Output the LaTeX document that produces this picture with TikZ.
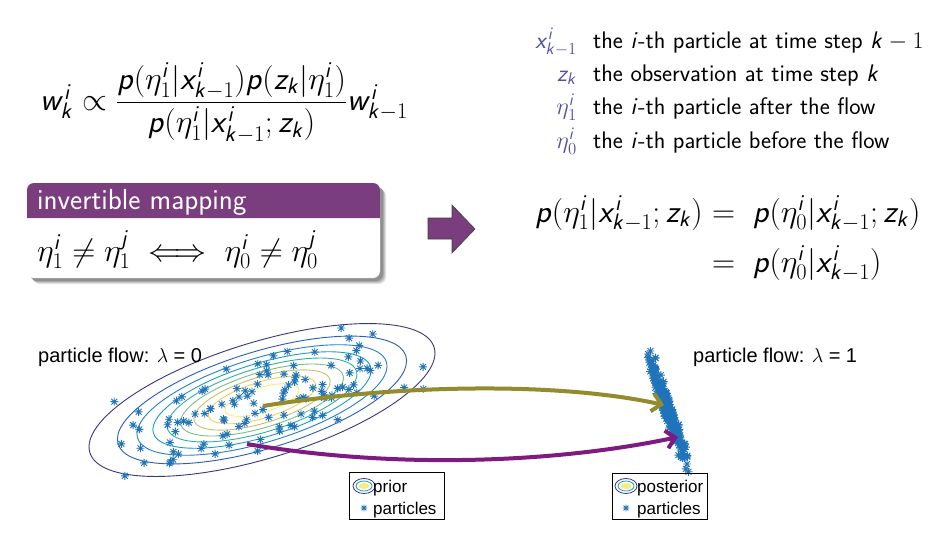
\RequirePackage{fix-cm}
\documentclass[tikz,border=0pt]{standalone}
\usepackage{fontspec}
\usepackage{amsmath}
\DeclareSymbolFont{sfitletters}{OT1}{cmss}{m}{sl}
\DeclareSymbolFont{sfupright}{OT1}{cmss}{m}{n}
\DeclareMathSymbol{w}{\mathalpha}{sfitletters}{`w}
\DeclareMathSymbol{k}{\mathalpha}{sfitletters}{`k}
\DeclareMathSymbol{i}{\mathalpha}{sfitletters}{`i}
\DeclareMathSymbol{j}{\mathalpha}{sfitletters}{`j}
\DeclareMathSymbol{p}{\mathalpha}{sfitletters}{`p}
\DeclareMathSymbol{x}{\mathalpha}{sfitletters}{`x}
\DeclareMathSymbol{z}{\mathalpha}{sfitletters}{`z}
\DeclareMathSymbol{0}{\mathalpha}{sfupright}{`0}
\DeclareMathSymbol{1}{\mathalpha}{sfupright}{`1}
\newfontfamily\arialf{Liberation Sans}
\usetikzlibrary{arrows.meta}
\definecolor{blockpurple}{HTML}{7A3E7E}
\definecolor{symblue}{HTML}{5050A0}
\definecolor{astc}{HTML}{1F73B8}
\definecolor{olivearrow}{HTML}{938B2C}
\definecolor{purplearrow}{HTML}{7E1A80}
\definecolor{cA}{HTML}{3A3580}
\definecolor{cB}{HTML}{2A5CB8}
\definecolor{cC}{HTML}{2480C8}
\definecolor{cD}{HTML}{1A9EC0}
\definecolor{cE}{HTML}{30B0A0}
\definecolor{cF}{HTML}{7EBE80}
\definecolor{cG}{HTML}{C8C068}
\definecolor{cH}{HTML}{EED060}
\definecolor{cI}{HTML}{F6EC80}
\tikzset{
  ast/.pic={\draw[astc,line width=0.9pt] (-4,0)--(4,0) (0,-4)--(0,4) (-2.9,-2.9)--(2.9,2.9) (-2.9,2.9)--(2.9,-2.9);},
  sast/.pic={\draw[astc,line width=0.8pt] (-3.3,0)--(3.3,0) (0,-3.3)--(0,3.3) (-2.4,-2.4)--(2.4,2.4) (-2.4,2.4)--(2.4,-2.4);},
  bigtext/.style={font=\sffamily\fontsize{29}{34}\selectfont},
  mathbig/.style={font=\sffamily\fontsize{32}{38}\selectfont},
  listtext/.style={font=\sffamily\fontsize{24}{28}\selectfont},
  plottext/.style={font=\arialf\fontsize{20}{24}\selectfont},
  legtext/.style={font=\arialf\fontsize{17}{20}\selectfont},
  flowarrow/.style={line width=4pt, -{Straight Barb[length=9pt,width=18pt,line width=4pt]}},
  contour/.style={line width=0.9pt}
}
\begin{document}
\begin{tikzpicture}[x=1pt,y=-1pt]
\useasboundingbox[fill=white] (0,0) rectangle (934,538);

% weight formula
\node[mathbig, anchor=west, inner sep=0pt] (wformula) at (40,103)
  {$w_k^i \propto \dfrac{p(\eta_1^i|x_{k-1}^i)p(z_k|\eta_1^i)}{p(\eta_1^i|x_{k-1}^i;z_k)}w_{k-1}^i$};

% block with shadow
\foreach \o/\op in {6/0.10,5/0.12,4/0.14,3/0.16}{
  \fill[black,opacity=\op,rounded corners=7] (27+\o,183+\o) rectangle (380+\o,278+\o);
}
\fill[white,rounded corners=7] (27,183) rectangle (380,278);
\fill[blockpurple] (27,218) {[rounded corners=7] -- (27,183) -- (380,183)} -- (380,218) -- cycle;
\node[bigtext, text=white, anchor=base west, inner sep=0pt] (hdr) at (37,209) {invertible mapping};
\node[mathbig, anchor=base west, inner sep=0pt] (inv) at (37,261)
  {$\eta_1^i \neq \eta_1^j \iff \eta_0^i\neq\eta_0^j$};

% big arrow
\filldraw[fill=blockpurple, draw=black!75, line width=0.6pt]
  (428,218) -- (452,218) -- (452,205) -- (475,229) -- (452,253) -- (452,239) -- (428,239) -- cycle;

% symbol list
\node[listtext, text=symblue, anchor=base east, inner sep=0pt] (s1) at (577,48) {$x_{k-1}^i$};
\node[listtext, text=symblue, anchor=base east, inner sep=0pt] (s2) at (577,81) {$z_k$};
\node[listtext, text=symblue, anchor=base east, inner sep=0pt] (s3) at (577,114) {$\eta_1^i$};
\node[listtext, text=symblue, anchor=base east, inner sep=0pt] (s4) at (577,148) {$\eta_0^i$};
\node[listtext, anchor=base west, inner sep=0pt] (t1) at (593,48) {the $i$-th particle at time step $k-1$};
\node[listtext, anchor=base west, inner sep=0pt] (t2) at (593,81) {the observation at time step $k$};
\node[listtext, anchor=base west, inner sep=0pt] (t3) at (593,114) {the $i$-th particle after the flow};
\node[listtext, anchor=base west, inner sep=0pt] (t4) at (593,148) {the $i$-th particle before the flow};

% right equation
\node[mathbig, anchor=base west, inner sep=0pt] (eq1) at (535,222) {$p(\eta_1^i|x_{k-1}^i;z_k)$};
\node[mathbig, anchor=base west, inner sep=0pt] (eq2) at (eq1.base east) {$\;=\; p(\eta_0^i|x_{k-1}^i;z_k)$};
\node[mathbig, anchor=base west, inner sep=0pt] (eq3) at ([yshift=-50pt]eq1.base east) {$\;=\; p(\eta_0^i|x_{k-1}^i)$};

% prior contours
\begin{scope}[shift={(262,400)}, rotate=17]
  \foreach \s/\c in {1/cA,0.836/cB,0.723/cC,0.631/cD,0.549/cE,0.471/cF,0.394/cG,0.311/cH,0.214/cI}{
    \draw[contour,\c] (0,0) ellipse ({180*\s} and {58*\s});
  }
\end{scope}

% prior particles
\pgfmathsetseed{11}
\foreach \i in {1,...,115}{
  \pgfmathsetmacro\u{90*(rand+rand)}
  \pgfmathsetmacro\v{28*(rand+rand)}
  \pgfmathsetmacro\px{262+\u*cos(17)+\v*sin(17)}
  \pgfmathsetmacro\py{400-\u*sin(17)+\v*cos(17)}
  \pic at (\px,\py) {ast};
}

% posterior particles
\foreach \i in {1,...,260}{
  \pgfmathsetmacro\t{0.5+0.2*(rand+rand+rand)}
  \pgfmathsetmacro\w{3*(rand+rand)}
  \pgfmathsetmacro\px{648+\t*39+\w*0.945}
  \pgfmathsetmacro\py{352+\t*113-\w*0.326}
  \pic at (\px,\py) {ast};
}
\pic at (648,354) {ast};
\pic at (685,458) {ast};
\pic at (687,464) {ast};
\pic at (652,366) {ast};

% flow arrows
\coordinate (olstart) at (263,406);
\coordinate (olend) at (664,405);
\coordinate (pustart) at (247,444);
\coordinate (puend) at (678,437);
\draw[flowarrow, olivearrow] (olstart) .. controls (400,384) and (560,382) .. (olend);
\draw[flowarrow, purplearrow] (pustart) .. controls (400,470) and (560,462) .. (puend);

% labels
\node[plottext, anchor=base west, inner sep=0pt] (lab0) at (38,362) {particle flow: $\lambda$ = 0};
\node[plottext, anchor=base west, inner sep=0pt] (lab1) at (693,362) {particle flow: $\lambda$ = 1};

% legends
\draw[line width=0.7pt] (349,472) rectangle (444,519);
\draw[cA, line width=0.8pt] (364,486) ellipse (11 and 7.5);
\draw[cD, line width=0.8pt] (364,486) ellipse (8 and 5);
\fill[cI] (364,486) ellipse (5.5 and 3);
\node[legtext, anchor=base west, inner sep=0pt] (lp1) at (373,492) {prior};
\pic at (364,508) {sast};
\node[legtext, anchor=base west, inner sep=0pt] (lp2) at (373,514) {particles};

\draw[line width=0.7pt] (612,473) rectangle (707,519);
\draw[cA, line width=0.8pt] (626,486) ellipse (11 and 7.5);
\draw[cD, line width=0.8pt] (626,486) ellipse (8 and 5);
\fill[cI] (626,486) ellipse (5.5 and 3);
\node[legtext, anchor=base west, inner sep=0pt] (lq1) at (637,492) {posterior};
\pic at (626,508) {sast};
\node[legtext, anchor=base west, inner sep=0pt] (lq2) at (637,514) {particles};
\end{tikzpicture}
\end{document}
